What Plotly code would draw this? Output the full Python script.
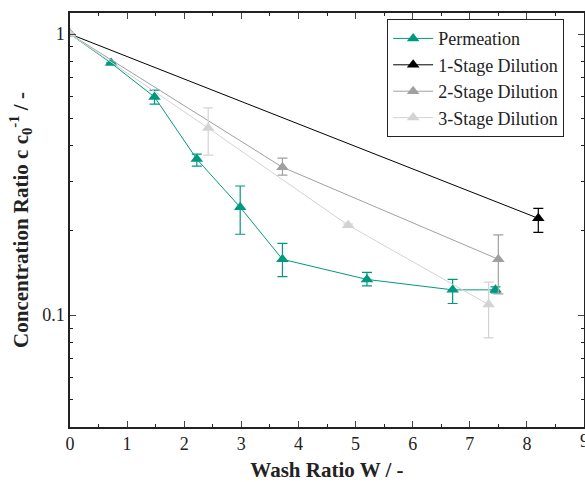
import plotly.graph_objects as go

# Permeation
perm_x = [0, 0.72, 1.48, 2.22, 2.98, 3.72, 5.2, 6.7, 7.45]
perm_y = [1.0, 0.789, 0.597, 0.359, 0.242, 0.158, 0.134, 0.123, 0.123]
perm_up = [0, 0.005, 0.035, 0.015, 0.046, 0.022, 0.008, 0.011, 0.003]
perm_dn = [0, 0.005, 0.034, 0.020, 0.048, 0.021, 0.007, 0.013, 0.003]

# 1-Stage Dilution
s1_x = [0, 8.2]
s1_y = [1.0, 0.221]
s1_up = [0, 0.019]
s1_dn = [0, 0.024]

# 2-Stage Dilution
s2_x = [0, 3.72, 7.5]
s2_y = [1.0, 0.336, 0.158]
s2_up = [0, 0.026, 0.035]
s2_dn = [0, 0.021, 0.039]

# 3-Stage Dilution
s3_x = [0, 2.42, 4.87, 7.33]
s3_y = [1.0, 0.463, 0.209, 0.109]
s3_up = [0, 0.083, 0.002, 0.022]
s3_dn = [0, 0.092, 0.002, 0.026]

series = [
    ("Permeation", perm_x, perm_y, perm_up, perm_dn, "#00997F"),
    ("1-Stage Dilution", s1_x, s1_y, s1_up, s1_dn, "#000000"),
    ("2-Stage Dilution", s2_x, s2_y, s2_up, s2_dn, "#A0A0A0"),
    ("3-Stage Dilution", s3_x, s3_y, s3_up, s3_dn, "#D3D3D3"),
]

FONT = "Liberation Serif"

fig = go.Figure()
for name, x, y, up, dn, col in series:
    fig.add_trace(go.Scatter(
        x=x, y=y, name=name, mode="lines+markers",
        line=dict(color=col, width=1),
        marker=dict(symbol="triangle-up", size=11, color=col),
        error_y=dict(type="data", array=up, arrayminus=dn, color=col,
                     thickness=1.2, width=5, symmetric=False),
    ))

fig.update_layout(
    width=585, height=482,
    paper_bgcolor="white", plot_bgcolor="white",
    margin=dict(l=70, r=1, t=13, b=55),
    font=dict(family=FONT, size=18, color="#222"),
    legend=dict(x=0.617, y=0.985, xanchor="left", yanchor="top",
                bordercolor="#222", borderwidth=1, bgcolor="white",
                font=dict(family=FONT, size=18), tracegroupgap=0,
                itemwidth=40),
    showlegend=True,
)
fig.update_xaxes(
    range=[0, 9], dtick=1, ticks="inside", ticklen=6, tickwidth=1,
    showline=True, linecolor="#222", linewidth=1.5, mirror="ticks",
    showgrid=False, zeroline=False, automargin=False,
    minor=dict(ticks="inside", ticklen=3, dtick=0.5, tickcolor="#222"),
    title=dict(text="<b>Wash Ratio W / -</b>", font=dict(family=FONT, size=21), standoff=10),
    tickfont=dict(family=FONT, size=18),
)
fig.update_yaxes(
    type="log", range=[-1.398, 0.075],
    tickvals=[0.1, 1], ticktext=["0.1", "1"],
    ticks="inside", ticklen=6, tickwidth=1,
    showline=True, linecolor="#222", linewidth=1.5, mirror="ticks",
    showgrid=False, zeroline=False, automargin=False,
    minor=dict(ticks="inside", ticklen=3, tickcolor="#222",
               tickvals=[0.05, 0.06, 0.07, 0.08, 0.09, 0.2, 0.3, 0.4, 0.5, 0.6, 0.7, 0.8, 0.9]),
    title=dict(text="<b>Concentration Ratio c c<sub>0</sub><sup>-1</sup> / -</b>",
               font=dict(family=FONT, size=21), standoff=8),
    tickfont=dict(family=FONT, size=18),
)
# last x tick label, partly beyond the right edge as in the reference
fig.add_annotation(x=9, y=0, xref="x", yref="paper", text="9", showarrow=False,
                   yanchor="top", yshift=-2, xanchor="center",
                   font=dict(family=FONT, size=18, color="#222"))

post = ("document.body.style.margin='0';document.body.style.overflow='hidden';"
        "var gd=document.getElementById('{plot_id}');"
        "Plotly.relayout(gd,{width:585,height:482});")
fig.write_html("out.html", post_script=post,
               config={"responsive": False, "displayModeBar": False})
